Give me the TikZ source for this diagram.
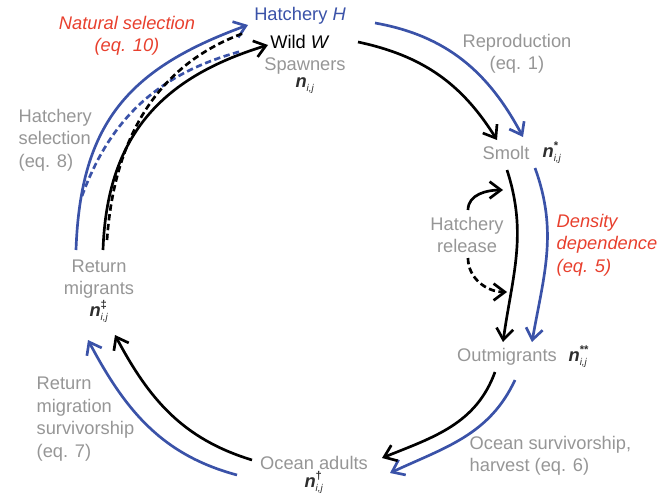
\documentclass[tikz,border=0pt]{standalone}
\usepackage{fontspec}
\setmainfont{Liberation Sans}
\usetikzlibrary{arrows.meta,positioning}

\definecolor{hblue}{RGB}{58,82,168}
\definecolor{selred}{RGB}{232,64,46}
\definecolor{labgrey}{RGB}{150,150,150}
\definecolor{ngrey}{RGB}{45,45,45}

% n_{i,j} with a mark on top
\newcommand{\nij}[1]{\textbf{\textit{n}}$^{\raisebox{1pt}{\fontsize{8}{8}\selectfont\bfseries #1}}_{\mbox{\fontsize{7}{7}\selectfont\itshape i,j}}$}

\begin{document}
\begin{tikzpicture}[x=0.025cm,y=0.025cm,
    txt/.style={inner sep=1pt, font=\fontsize{13}{16}\selectfont},
    lab/.style={txt, text=labgrey, align=center},
    eqn/.style={txt, text=selred, align=center, font=\fontsize{13}{16}\selectfont\itshape},
    nlab/.style={txt, text=ngrey},
    flow/.style={line width=1.9pt, -{Straight Barb[length=2.8mm,width=4.2mm]}},
    hflow/.style={flow, hblue},
    wflow/.style={flow, black},
    dflow/.style={line width=1.9pt, dash pattern=on 4.5pt off 2.5pt}]
    \useasboundingbox (0,0) rectangle (667,496);

    % stages
    \node(hatch) [txt, text=hblue] at (300,480) {Hatchery \textit{H}};
    \node(wild) [txt] at (300,454) {Wild \textit{W}};
    \node(spawn) [lab] at (305,430) {Spawners};
    \node(nspawn) [nlab, below=0pt of spawn] {\nij{}};
    \node(smolt) [lab] at (506,343) {Smolt};
    \node(nsmolt) [nlab, right=7pt of smolt] {\nij{*}};
    \node(outm) [lab] at (507,139) {Outmigrants};
    \node(noutm) [nlab, right=6pt of outm] {\nij{**}};
    \node(ocean) [lab] at (314,33) {Ocean adults};
    \node(nocean) [nlab, below=-1pt of ocean] {\nij{†}};
    \node(ret) [lab] at (99,217) {Return\\migrants};
    \node(nret) [nlab, below=-1pt of ret] {\nij{‡}};

    % processes
    \node(natsel) [eqn] at (127,460) {Natural selection\\(eq. 10)};
    \node(repro) [lab] at (517,442) {Reproduction\\(eq. 1)};
    \node(hsel) [lab, align=left, anchor=west] at (17,356) {Hatchery\\selection\\(eq. 8)};
    \node(release) [lab] at (467,261) {Hatchery\\release};
    \node(dens) [eqn, align=left, anchor=west] at (555,251) {Density\\dependence\\(eq. 5)};
    \node(osurv) [lab, align=left, anchor=west] at (468,40) {Ocean survivorship,\\harvest (eq. 6)};
    \node(rsurv) [lab, align=left, anchor=west] at (35,77) {Return\\migration\\survivorship\\(eq. 7)};

    % arrow ends
    \coordinate(hs0) at (76,246);   \coordinate(hs1) at (248,471);
    \coordinate(ws0) at (103,246);  \coordinate(ws1) at (268,451);
    \coordinate(hd0) at (82,300);   \coordinate(hd1) at (242,445);
    \coordinate(wd0) at (107,256);  \coordinate(wd1) at (244,463);
    \coordinate(hr0) at (375,473);  \coordinate(hr1) at (523,359);
    \coordinate(wr0) at (358,454);  \coordinate(wr1) at (497,356);
    \coordinate(hm0) at (535,328);  \coordinate(hm1) at (532,154);
    \coordinate(wm0) at (507,326);  \coordinate(wm1) at (503,154);
    \coordinate(rl0) at (468,286);  \coordinate(rl1) at (503,306);
    \coordinate(rd0) at (468,238);  \coordinate(rd1) at (507,204);
    \coordinate(ho0) at (515,116);  \coordinate(ho1) at (390,23);
    \coordinate(wo0) at (495,124);  \coordinate(wo1) at (382,38);
    \coordinate(ha0) at (237,21);   \coordinate(ha1) at (88,156);
    \coordinate(wa0) at (252,36);   \coordinate(wa1) at (115,161);

    % spawning return
    \draw[hflow] (hs0) to[out=88,in=200,looseness=1.15] (hs1);
    \draw[wflow] (ws0) to[out=88,in=197,looseness=1.1] (ws1);
    \draw[dflow, hblue] (hd0) to[out=70,in=195] (hd1);
    \draw[dflow, black] (wd0) to[out=86,in=200] (wd1);
    % reproduction
    \draw[hflow] (hr0) to[out=-10,in=118] (hr1);
    \draw[wflow] (wr0) to[out=-12,in=122] (wr1);
    % smolt to outmigrants
    \draw[hflow] (hm0) to[out=-70,in=80] (hm1);
    \draw[wflow] (wm0) to[out=-72,in=82] (wm1);
    \draw[wflow] (rl0) to[out=90,in=180] (rl1);
    \draw[dflow, -{Straight Barb[length=2.8mm,width=4.2mm]}] (rd0) to[out=-90,in=180] (rd1);
    % to the ocean
    \draw[hflow] (ho0) to[out=-115,in=25] (ho1);
    \draw[wflow] (wo0) to[out=-110,in=22] (wo1);
    % back to the river
    \draw[hflow] (ha0) to[out=165,in=-62] (ha1);
    \draw[wflow] (wa0) to[out=163,in=-62] (wa1);
\end{tikzpicture}
\end{document}
